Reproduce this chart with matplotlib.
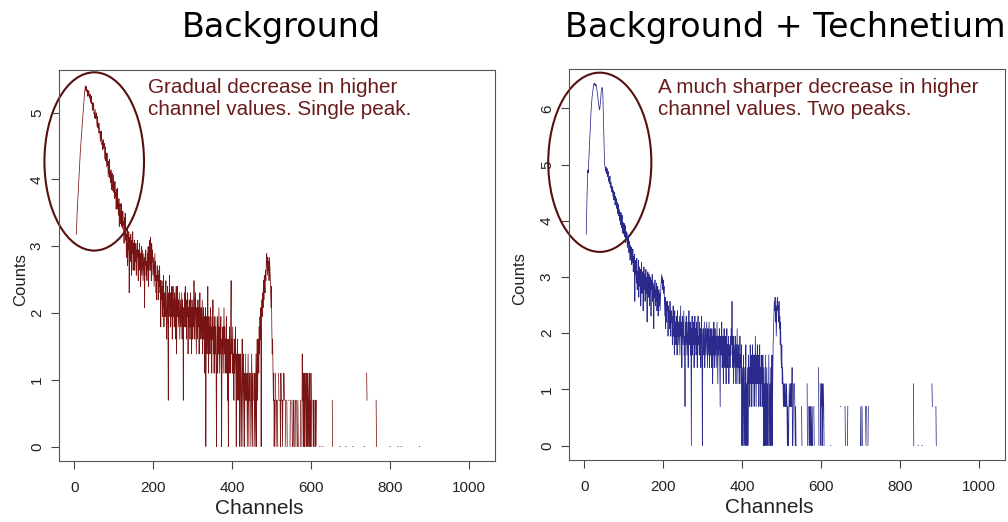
import numpy as np
import matplotlib.pyplot as plt
from matplotlib.patches import Ellipse

plt.rcParams['font.family'] = ['Liberation Sans', 'DejaVu Sans']

# counts per channel, starting at channel 1 (0 = empty channel, not drawn on the log plot)
bg_rise = [0, 0, 0, 0, 24, 27, 32, 36, 41, 46,
           52, 58, 65, 73, 80, 88, 96, 104, 112, 122,
           133, 145, 157, 170, 184, 198, 211, 222, 216, 206,
           219, 203, 209, 190, 207, 193, 205, 186, 194, 180,
           195, 173, 190, 170, 173, 153, 172, 155, 171, 146,
           150, 137, 156, 136, 140, 148, 130, 121, 140, 118,
           127, 109, 127, 110, 112, 96, 112, 99, 112, 92,
           97, 85, 99, 87, 89, 94, 81, 74, 89, 72,
           81, 66, 81, 67, 71, 57, 72, 60, 74, 56,
           61, 52, 63, 47, 58, 60, 50, 46, 58, 45,
           52, 41, 53, 42, 45, 35, 47, 38, 48, 35,
           39, 32, 41, 27, 36, 38, 31, 28, 38, 27,
           34, 26, 34, 28, 29, 21, 31, 24, 33, 22]
bg_mid = [24, 17, 22, 26, 15, 21, 19, 25, 10, 18, 23, 16, 24, 20, 13, 22, 18, 25, 14, 21,
          18, 22, 14, 20, 16, 21, 13, 19, 17, 22,
          15, 12, 19, 16, 21, 14, 18, 11, 17, 20,
          13, 16, 19, 12, 15, 18, 14, 8, 17, 15,
          19, 13, 16, 12, 18, 14, 20, 11, 15, 17,
          22, 14, 23, 18, 12, 21, 16, 19, 13, 15,
          17, 11, 14, 18, 12, 16, 10, 13, 9, 15,
          12, 14, 9, 13, 11, 15, 10, 12, 6, 11,
          9, 12, 7, 11, 8, 13, 6, 10, 9, 7,
          10, 12, 7, 5, 9, 11, 6, 2, 10, 7,
          13, 8, 10, 6, 9, 7, 11, 5, 8, 11,
          7, 9, 6, 10, 8, 5, 9, 11, 4, 8,
          11, 7, 9, 6, 8, 10, 5, 7, 9, 6,
          8, 10, 5, 9, 7, 2, 8, 6, 10, 7,
          11, 6, 8, 5, 9, 7, 10, 4, 8, 6,
          9, 7, 5, 10, 6, 8, 4, 9, 7, 5,
          8, 6, 12, 7, 5, 9, 10, 6, 4, 8,
          7, 5, 9, 6, 8, 4, 7, 10, 5, 6,
          8, 5, 7, 9, 4, 6, 8, 5, 7, 3,
          6, 8, 1, 5, 7, 4, 6, 11, 5, 3,
          7, 4, 6, 5, 8, 4, 6, 3, 7, 5,
          9, 4, 6, 3, 5, 7, 4, 6, 3, 1,
          5, 7, 3, 6, 4, 8, 5, 3, 6, 4,
          7, 3, 1, 5, 4, 6, 3, 5, 8, 4,
          6, 3, 5, 4, 7, 3, 5, 2, 4, 1,
          5, 3, 6, 4, 3, 7, 12, 4, 5, 3,
          6, 3, 4, 2, 5, 3, 4, 6, 3, 1,
          4, 3, 5, 2, 4, 3, 2, 4, 1, 3,
          4, 2, 1, 3, 5, 2, 1, 4, 3, 2,
          1, 3, 2, 4, 0, 2, 3, 1, 2, 4,
          2, 1, 3, 2, 0, 3, 1, 2, 4, 2,
          1, 3, 2, 0, 1, 2, 3, 1, 2, 4,
          1, 3, 5, 2, 4, 5, 3, 6, 4, 7,
          5, 8, 1, 6, 9, 7, 10, 8, 12, 9,
          13, 11, 10, 14, 12, 16, 18, 15, 13, 17,
          14, 16, 12, 17, 15, 13, 10, 8, 11, 6,
          4, 5, 3]
bg_low = [2, 3, 1, 2, 0, 3, 2,
          1, 2, 0, 2, 1, 0, 3, 2, 0, 2,
          2, 1, 3, 2, 0, 2, 1, 2, 2, 3,
          3, 2, 0, 1, 2, 0, 0, 2, 1, 0,
          0, 2, 2, 0, 0, 1, 2, 0, 0, 0,
          2, 1, 0, 1, 2, 2, 1, 0, 0, 2,
          1, 2, 0, 0, 1, 2, 1, 0, 0, 0,
          0, 1, 2, 0, 0, 1, 4, 2, 3, 1,
          2, 3, 1, 2, 3, 2, 1, 3, 2, 1,
          3, 2, 1, 2, 3, 1, 2, 1, 3, 2,
          1, 0, 0, 2, 1, 2, 1, 0, 2, 1,
          2, 1, 2, 0, 0, 0, 0, 0, 0, 0]
bg_tail_ch = [621, 622, 628, 629, 653, 654, 672, 673, 687, 688, 705, 706, 734, 735,
              740, 741, 764, 765, 798, 799, 819, 820, 827, 828, 873, 874]
bg_tail_n = [1, 1, 1, 1, 2, 1, 1, 1, 1, 1, 1, 1, 1, 1,
             3, 2, 2, 1, 1, 1, 1, 1, 1, 1, 1, 1]

tc_rise = [0, 0, 0, 0, 43, 62, 85, 110, 135, 128,
           150, 175, 205, 240, 290, 330, 375, 420, 460, 500,
           530, 555, 590, 615, 628, 610, 625, 620, 605, 612,
           590, 560, 530, 500, 470, 445, 420, 400, 395, 420,
           460, 505, 545, 570, 584, 575, 520, 400, 300, 220,
           165, 144, 140, 132, 142, 126, 131, 138, 119, 128,
           131, 110, 117, 106, 121, 98, 104, 109, 92, 101,
           90, 99, 84, 93, 79, 88, 91, 72, 84, 75,
           81, 68, 76, 70, 62, 73, 60, 67, 55, 64,
           58, 51, 63, 48, 55, 60, 44, 53, 49, 43,
           52, 41, 47, 50, 37, 45, 39, 44, 34, 41,
           36, 42, 31, 38, 33, 27, 35, 30, 34, 25,
           31, 26, 33, 22, 29, 24, 30, 13, 27, 21]
tc_mid = [25, 18, 28, 16, 22, 19, 27, 14, 21, 24,
          17, 23, 12, 20, 26, 15, 19, 22, 11, 18,
          24, 16, 21, 13, 19, 23, 15, 20, 9, 17,
          22, 14, 18, 21, 12, 17, 20, 15, 10, 19,
          16, 21, 13, 18, 15, 8, 17, 14, 19, 12,
          16, 13, 18, 11, 15, 17, 10, 14, 16, 12,
          15, 11, 14, 17, 19, 21, 18, 20, 16, 19,
          15, 17, 13, 10, 14, 8, 12, 9, 13, 11,
          13, 7, 12, 9, 11, 8, 13, 10, 7, 11,
          9, 10, 6, 9, 12, 7, 8, 5, 11, 7,
          9, 6, 10, 8, 5, 11, 7, 9, 6, 8,
          10, 5, 8, 12, 7, 9, 4, 8, 10, 6,
          8, 11, 5, 7, 2, 9, 6, 10, 8, 5,
          7, 9, 4, 8, 11, 6, 7, 9, 5, 8,
          1, 7, 10, 5, 8, 6, 9, 4, 7, 10,
          6, 8, 5, 9, 7, 4, 8, 10, 6, 7,
          5, 9, 6, 8, 4, 7, 10, 5, 1, 7,
          8, 5, 7, 9, 4, 6, 8, 5, 7, 9,
          6, 4, 8, 5, 7, 9, 4, 6, 8, 5,
          7, 4, 8, 6, 3, 7, 5, 9, 4, 6,
          8, 5, 7, 4, 6, 9, 5, 3, 7, 5,
          6, 8, 4, 2, 7, 5, 6, 9, 4, 5,
          7, 3, 6, 8, 5, 4, 7, 5, 3, 6,
          8, 4, 6, 5, 7, 3, 5, 6, 4, 7,
          5, 8, 6, 13, 5, 4, 7, 3, 6, 5,
          4, 7, 5, 3, 6, 4, 8, 5, 3, 6,
          4, 5, 3, 7, 4, 5, 3, 6, 1, 4,
          1, 3, 5, 1, 2, 4, 1, 3, 6, 1,
          3, 1, 4, 2, 1, 5, 3, 4, 2, 6,
          4, 3, 5, 2, 4, 6, 3, 5, 4, 2,
          5, 3, 7, 4, 2, 5, 3, 6, 4, 3,
          5, 2, 4, 6, 3, 4, 2, 5, 3, 4,
          2, 5, 3, 1, 4, 1, 3, 1, 5, 2,
          1, 4, 1, 3, 0, 1, 5, 2, 1, 3,
          1, 4, 1, 2, 5, 1, 3, 6, 8, 10,
          13, 11, 14, 9, 12, 7, 10, 13, 14, 11,
          12, 9, 13, 8, 10, 6, 9, 5, 4, 6]
tc_low = [3, 4, 3, 2, 3, 2, 3, 2, 2, 3,
          2, 3, 2, 1, 2, 1, 1, 2, 3, 2,
          2, 3, 2, 3, 2, 4, 1, 1, 2, 3,
          3, 3, 2, 1, 2, 1, 1, 0, 0, 0,
          0, 0, 0, 0, 0, 0, 0, 0, 0, 2,
          1, 0, 0, 0, 0, 0, 0, 0, 0, 0,
          0, 0, 0, 3, 1, 0, 0, 2, 1, 2,
          1, 2, 1, 2, 1, 1, 2, 1, 0, 0,
          2, 1, 0, 0, 0, 0, 0, 0, 0, 0,
          0, 0, 4, 1, 0, 0, 3, 2, 1, 3,
          2, 3, 1, 2, 3, 2, 1, 0, 0, 0,
          0, 0, 0, 0, 0, 0, 0, 0, 0, 0]
tc_tail_ch = [623, 624, 648, 649, 660, 661, 666, 667, 699, 700, 701, 703, 704,
              712, 713, 714, 718, 719, 833, 834, 845, 846, 855, 856, 880, 881, 890, 891]
tc_tail_n = [1, 1, 2, 2, 2, 1, 1, 2, 1, 2, 1, 2, 1,
             2, 1, 2, 1, 2, 3, 1, 1, 1, 1, 1, 3, 2, 2, 1]

x_ticks = [0, 200, 400, 600, 800, 1000]


def spectrum(parts, tail_ch, tail_n):
    n = np.zeros(1024)
    dense = np.concatenate([np.array(p, dtype=float) for p in parts])
    n[:len(dense)] = dense
    n[np.array(tail_ch) - 1] = tail_n
    y = np.full(1024, np.nan)
    y[n > 0] = np.log(n[n > 0])
    return np.arange(1, 1025), y


panels = [
    dict(parts=[bg_rise, bg_mid, bg_low], tail=(bg_tail_ch, bg_tail_n), color='#7a1414',
         rect=[58.5 / 1008, 1 - 461 / 522, 436.5 / 1008, 391 / 522], ylim=(-0.217, 5.64),
         yticks=range(0, 6), ylab_x=-0.070, ell=(50.5, 4.27, 252, 2.67),
         title='Background', title_x=281,
         note='Gradual decrease in higher\nchannel values. Single peak.', note_x=148),
    dict(parts=[tc_rise, tc_mid, tc_low], tail=(tc_tail_ch, tc_tail_n), color='#2a2a8c',
         rect=[568.5 / 1008, 1 - 460 / 522, 436.5 / 1008, 391 / 522], ylim=(-0.258, 6.70),
         yticks=range(0, 7), ylab_x=-0.095, ell=(39.3, 5.04, 261, 3.19),
         title='Background + Technetium', title_x=785,
         note='A much sharper decrease in higher\nchannel values. Two peaks.', note_x=658),
]

fig = plt.figure(figsize=(10.08, 5.22), dpi=100)

for p in panels:
    ax = fig.add_axes(p['rect'])
    x, y = spectrum(p['parts'], *p['tail'])
    ax.plot(x, y, color=p['color'], lw=0.55)
    ax.set_xlim(-39.9, 1064.9)
    ax.set_ylim(*p['ylim'])
    ax.set_xticks(x_ticks)
    ax.set_yticks(list(p['yticks']))
    ax.tick_params(direction='out', length=5.5, width=0.8, color='#444444',
                   labelsize=11, labelcolor='#222222')
    ax.tick_params(axis='x', pad=9)
    ax.tick_params(axis='y', pad=5)
    for lab in ax.get_yticklabels():
        lab.set_rotation(90)
        lab.set_va('center')
    for s in ax.spines.values():
        s.set_color('#555555')
        s.set_linewidth(0.8)
    ax.set_xlabel('Channels', fontsize=15, color='#222222')
    ax.xaxis.set_label_coords(0.46, -0.098)
    ax.set_ylabel('Counts', fontsize=12, color='#222222')
    ax.yaxis.set_label_coords(p['ylab_x'], 0.465)

    cx, cy, w, h = p['ell']
    ax.add_patch(Ellipse((cx, cy), w, h, fill=False, ec='#561010', lw=1.5, clip_on=False))

    fig.text(p['note_x'] / 1008, 1 - 78 / 522, p['note'], fontsize=14.9, color='#6a1c1c',
             ha='left', va='top', linespacing=1.2)
    fig.text(p['title_x'] / 1008, 1 - 37 / 522, p['title'], fontsize=24, family='DejaVu Sans',
             ha='center', va='baseline', color='black')

fig.savefig('out.png', dpi=100)
